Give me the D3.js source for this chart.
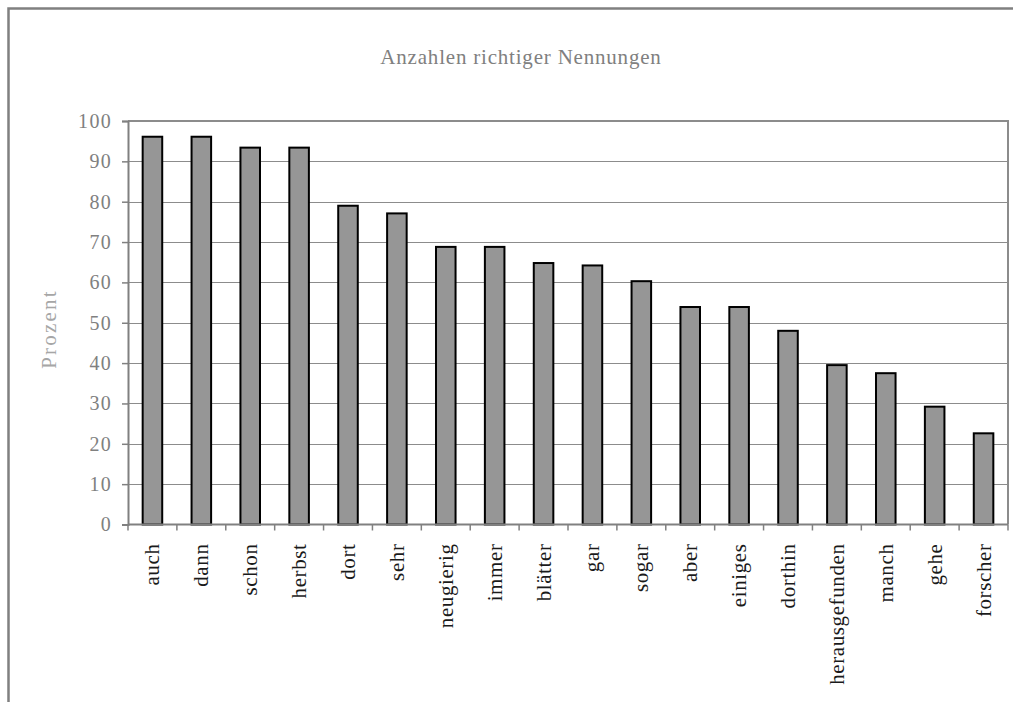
<!DOCTYPE html>
<meta charset="utf-8">
<style>
  body {
    margin: 0;
    background: #fff;
  }
  text {
    font-family: "Liberation Serif", "Times New Roman", serif;
  }
  .grid line {
    stroke: #8c8c8c;
    stroke-width: 1px;
  }
  .bars rect {
    fill: #969696;
    stroke: #000;
    stroke-width: 2px;
  }
</style>
<body>
<script src="https://d3js.org/d3.v7.min.js"></script>
<script>

// words and share of correct answers (percent)
var words = ["auch", "dann", "schon", "herbst", "dort", "sehr", "neugierig", "immer",
             "blätter", "gar", "sogar", "aber", "einiges", "dorthin", "herausgefunden",
             "manch", "gehe", "forscher"];
var percent = [96.1, 96.1, 93.4, 93.4, 79.0, 77.1, 68.8, 68.8,
               64.8, 64.2, 60.3, 53.9, 53.9, 48.0, 39.5,
               37.5, 29.2, 22.6];
var yTicks = [0, 10, 20, 30, 40, 50, 60, 70, 80, 90, 100];
var title = "Anzahlen richtiger Nennungen";
var yTitle = "Prozent";

var width = 1013, height = 702;
var plot = {left: 128, right: 1008, top: 121, bottom: 524.5};

var svg = d3.select("body").append("svg")
    .attr("width", width)
    .attr("height", height);

// outer chart frame (runs off the right and bottom edge)
svg.append("rect")
    .attr("x", 8.5).attr("y", 8.5)
    .attr("width", 1030).attr("height", 720)
    .attr("fill", "#fff")
    .attr("stroke", "#808080")
    .attr("stroke-width", 2.5);

var x = d3.scaleBand()
    .domain(words)
    .range([plot.left, plot.right])
    .paddingInner(0.6)
    .paddingOuter(0.3);

var y = d3.scaleLinear()
    .domain([0, 100])
    .range([plot.bottom, plot.top]);

// horizontal gridlines
svg.append("g")
    .attr("class", "grid")
    .selectAll("line")
    .data(yTicks.filter(function(d) { return d > 0 && d < 100; }))
    .enter().append("line")
    .attr("x1", plot.left).attr("x2", plot.right)
    .attr("y1", function(d) { return Math.round(y(d)) + 0.5; })
    .attr("y2", function(d) { return Math.round(y(d)) + 0.5; });

// plot area border (top and right)
svg.append("path")
    .attr("d", "M" + plot.left + "," + plot.top + "H" + plot.right + "V" + plot.bottom)
    .attr("fill", "none")
    .attr("stroke", "#8c8c8c")
    .attr("stroke-width", 2);

// bars
svg.append("g")
    .attr("class", "bars")
    .selectAll("rect")
    .data(words)
    .enter().append("rect")
    .attr("x", function(d) { return x(d); })
    .attr("width", x.bandwidth())
    .attr("y", function(d, i) { return y(percent[i]); })
    .attr("height", function(d, i) { return y(0) - y(percent[i]); });

// y axis
var yAxis = svg.append("g")
    .attr("transform", "translate(" + plot.left + ",0)")
    .call(d3.axisLeft(y).tickValues(yTicks).tickSize(6).tickPadding(10));
yAxis.select(".domain").attr("stroke", "#808080").attr("stroke-width", 2);
yAxis.selectAll(".tick line").attr("stroke", "#808080").attr("stroke-width", 1.5);
yAxis.selectAll(".tick text")
    .attr("fill", "#808080")
    .style("font-size", "20px")
    .style("letter-spacing", "1.3px")
    .style("font-family", "'Liberation Serif', serif");

// x axis: ticks sit between the categories
var step = x.step();
var bounds = d3.range(words.length + 1).map(function(i) { return plot.left + i * step; });
var xAxis = svg.append("g");
xAxis.append("line")
    .attr("x1", plot.left).attr("x2", plot.right)
    .attr("y1", plot.bottom).attr("y2", plot.bottom)
    .attr("stroke", "#808080").attr("stroke-width", 2);
xAxis.selectAll(".xtick")
    .data(bounds)
    .enter().append("line")
    .attr("class", "xtick")
    .attr("x1", function(d) { return d; }).attr("x2", function(d) { return d; })
    .attr("y1", plot.bottom).attr("y2", plot.bottom + 6)
    .attr("stroke", "#808080").attr("stroke-width", 1.5);

xAxis.selectAll(".xlabel")
    .data(words)
    .enter().append("text")
    .attr("class", "xlabel")
    .attr("transform", function(d) {
        return "translate(" + (x(d) + x.bandwidth() / 2 + 7) + "," + (plot.bottom + 19) + ") rotate(-90)";
    })
    .attr("text-anchor", "end")
    .attr("fill", "#1a1a1a")
    .style("font-size", "21px")
    .style("letter-spacing", "0.6px")
    .text(function(d) { return d; });

// titles
svg.append("text")
    .attr("x", 521).attr("y", 64)
    .attr("text-anchor", "middle")
    .attr("fill", "#808080")
    .style("font-size", "21px")
    .style("letter-spacing", "0.8px")
    .text(title);

svg.append("text")
    .attr("transform", "translate(56,329) rotate(-90)")
    .attr("text-anchor", "middle")
    .attr("fill", "#a6a6a6")
    .style("font-size", "21px")
    .style("letter-spacing", "2.2px")
    .text(yTitle);

</script>
</body>
